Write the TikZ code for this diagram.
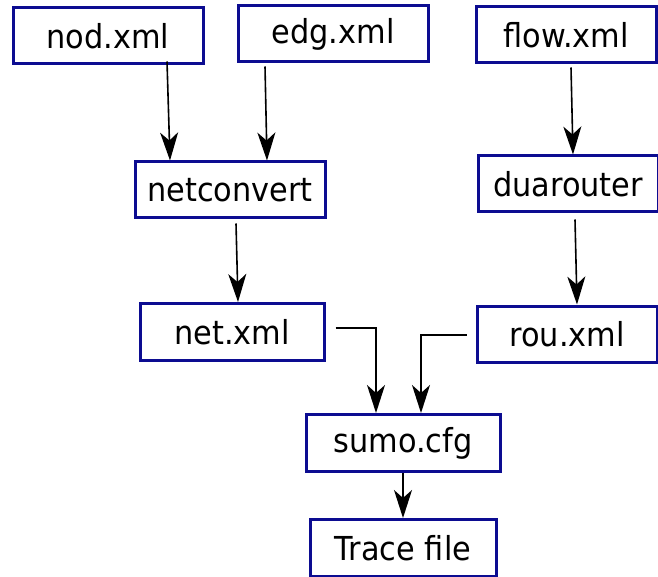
\documentclass[tikz,border=0pt]{standalone}
\usepackage{fontspec}
\setmainfont[FakeStretch=0.92]{DejaVu Sans}
\usetikzlibrary{arrows.meta}
\definecolor{boxblue}{RGB}{12,12,145}

\begin{document}
\begin{tikzpicture}[x=1pt, y=-1pt,
    every node/.style={font=\fontsize{33}{40}\selectfont},
    filebox/.style={draw=boxblue, line width=3pt, rectangle, minimum width=#1, minimum height=56pt, inner sep=0pt},
    filebox/.default=190pt,
    flowline/.style={line width=1.6pt, -{Stealth[length=28pt, width=18pt, inset=8pt]}}]
    \useasboundingbox (0,0) rectangle (658,577);
    % input files
    \node[filebox] (nod) at (108,36) {nod.xml};
    \node[filebox] (edg) at (333,34) {edg.xml};
    \node[filebox=180pt] (flow) at (566,35) {flow.xml};
    % tools
    \node[filebox] (netconvert) at (230,190) {netconvert};
    \node[filebox=180pt] (duarouter) at (568,184) {duarouter};
    % generated files
    \node[filebox=184pt, minimum height=57pt] (net) at (232,332) {net.xml};
    \node[filebox=180pt] (rou) at (567,334) {rou.xml};
    \node[filebox=194pt, minimum height=57pt] (sumo) at (403,443) {sumo.cfg};
    \node[filebox=186pt, minimum height=57pt] (trace) at (403,548) {Trace file};

    \draw[flowline] ([xshift=59pt, yshift=4pt]nod.south) -- ([xshift=-60pt]netconvert.north);
    \draw[flowline] ([xshift=-68pt, yshift=-3pt]edg.south) -- ([xshift=37pt]netconvert.north);
    \draw[flowline] ([xshift=5pt, yshift=-3pt]flow.south) -- ([xshift=5pt]duarouter.north);
    \draw[flowline] ([xshift=6pt, yshift=-4pt]netconvert.south) -- ([xshift=6pt]net.north);
    \draw[flowline] ([xshift=7pt, yshift=-6pt]duarouter.south) -- ([xshift=10pt]rou.north);
    \draw[flowline] ([xshift=10pt, yshift=4pt]net.east) -| ([xshift=-27pt]sumo.north);
    \draw[flowline] ([xshift=-9pt, yshift=-1pt]rou.west) -| ([xshift=18pt]sumo.north);
    \draw[flowline] (sumo.south) -- (trace.north);
\end{tikzpicture}
\end{document}
